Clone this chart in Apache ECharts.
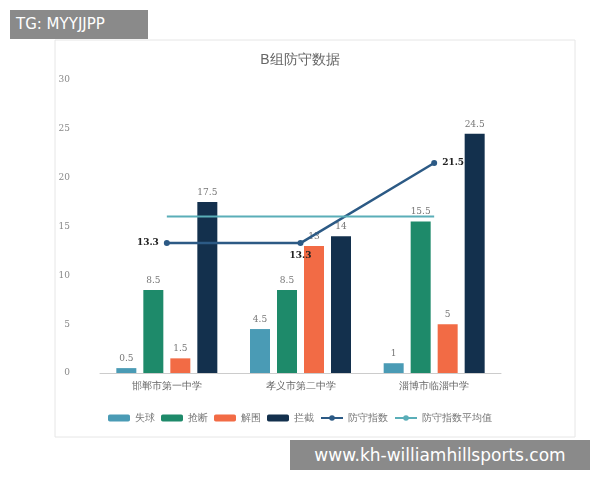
<!DOCTYPE html>
<html>
<head>
<meta charset="utf-8">
<script src="https://cdn.jsdelivr.net/npm/echarts@6/dist/echarts.min.js"></script>
<style>
 body{margin:0;background:#fff}
 .wm{position:absolute;background:#8a8a8a;color:#fff;font-family:"DejaVu Sans",sans-serif}
</style>
</head>
<body>
<div id="main" style="width:600px;height:480px;"></div>
<div class="wm" style="left:10px;top:10px;width:138px;height:29px;line-height:29px;font-size:15px;padding-left:6px;box-sizing:border-box">TG: MYYJJPP</div>
<div class="wm" style="left:290px;top:440px;width:300px;height:30px;line-height:30px;font-size:17px;text-align:center">www.kh-williamhillsports.com</div>
<script type="text/javascript">
    var categories = ['邯郸市第一中学', '孝义市第二中学', '淄博市临淄中学'];
    var shiqiu = [0.5, 4.5, 1];
    var qiangduan = [8.5, 8.5, 15.5];
    var jiewei = [1.5, 13, 5];
    var lanjie = [17.5, 14, 24.5];
    var fangshou = [13.3, 13.3, 21.5];
    var avg = [16.03, 16.03, 16.03];

    var myChart = echarts.init(document.getElementById('main'));
    var barLabel = {show: true, position: 'top', color: '#777', fontFamily: 'DejaVu Serif', fontSize: 9};
    function bar(name, data, color) {
        return {name: name, type: 'bar', data: data, barWidth: 20, barGap: '35%',
            itemStyle: {color: color}, label: barLabel};
    }
    var lblPos = ['left', 'bottom', 'right'];
    var option = {
        graphic: [{type: 'rect', shape: {x: 55, y: 40, width: 520, height: 397},
            style: {fill: 'none', stroke: '#e6e6e6'}}],
        title: {text: 'B组防守数据', left: 'center', top: 48,
            textStyle: {fontSize: 14, color: '#666', fontWeight: 'normal'}},
        legend: {bottom: 52, left: 'center', itemWidth: 22, itemHeight: 7, itemGap: 6,
            textStyle: {fontSize: 10, color: '#777'},
            data: ['失球', '抢断', '解围', '拦截', '防守指数', '防守指数平均值']},
        grid: {left: 100, right: 99, top: 80, bottom: 107},
        xAxis: {type: 'category', data: categories,
            axisLine: {lineStyle: {color: '#ccc'}}, axisTick: {show: false},
            axisLabel: {color: '#666', fontSize: 10}},
        yAxis: {type: 'value', min: 0, max: 30, interval: 5,
            axisLabel: {color: '#888', fontFamily: 'DejaVu Serif', fontSize: 9, margin: 30},
            splitLine: {show: false}},
        series: [
            bar('失球', shiqiu, '#4a9bb5'),
            bar('抢断', qiangduan, '#1e8a6a'),
            bar('解围', jiewei, '#f26b45'),
            bar('拦截', lanjie, '#13304d'),
            {name: '防守指数', type: 'line', symbol: 'circle', symbolSize: 6,
                itemStyle: {color: '#2c5a85'}, lineStyle: {width: 2.5, color: '#2c5a85'},
                data: fangshou.map(function (v, i) {
                    return {value: v, label: {show: true, position: lblPos[i], color: '#222',
                        fontWeight: 'bold', fontFamily: 'DejaVu Serif', fontSize: 9}};
                })},
            {name: '防守指数平均值', type: 'line', symbol: 'none', data: avg,
                itemStyle: {color: '#5aaeb8'}, lineStyle: {width: 2, color: '#5aaeb8'}}
        ]
    };
    myChart.setOption(option);
</script>
</body>
</html>
